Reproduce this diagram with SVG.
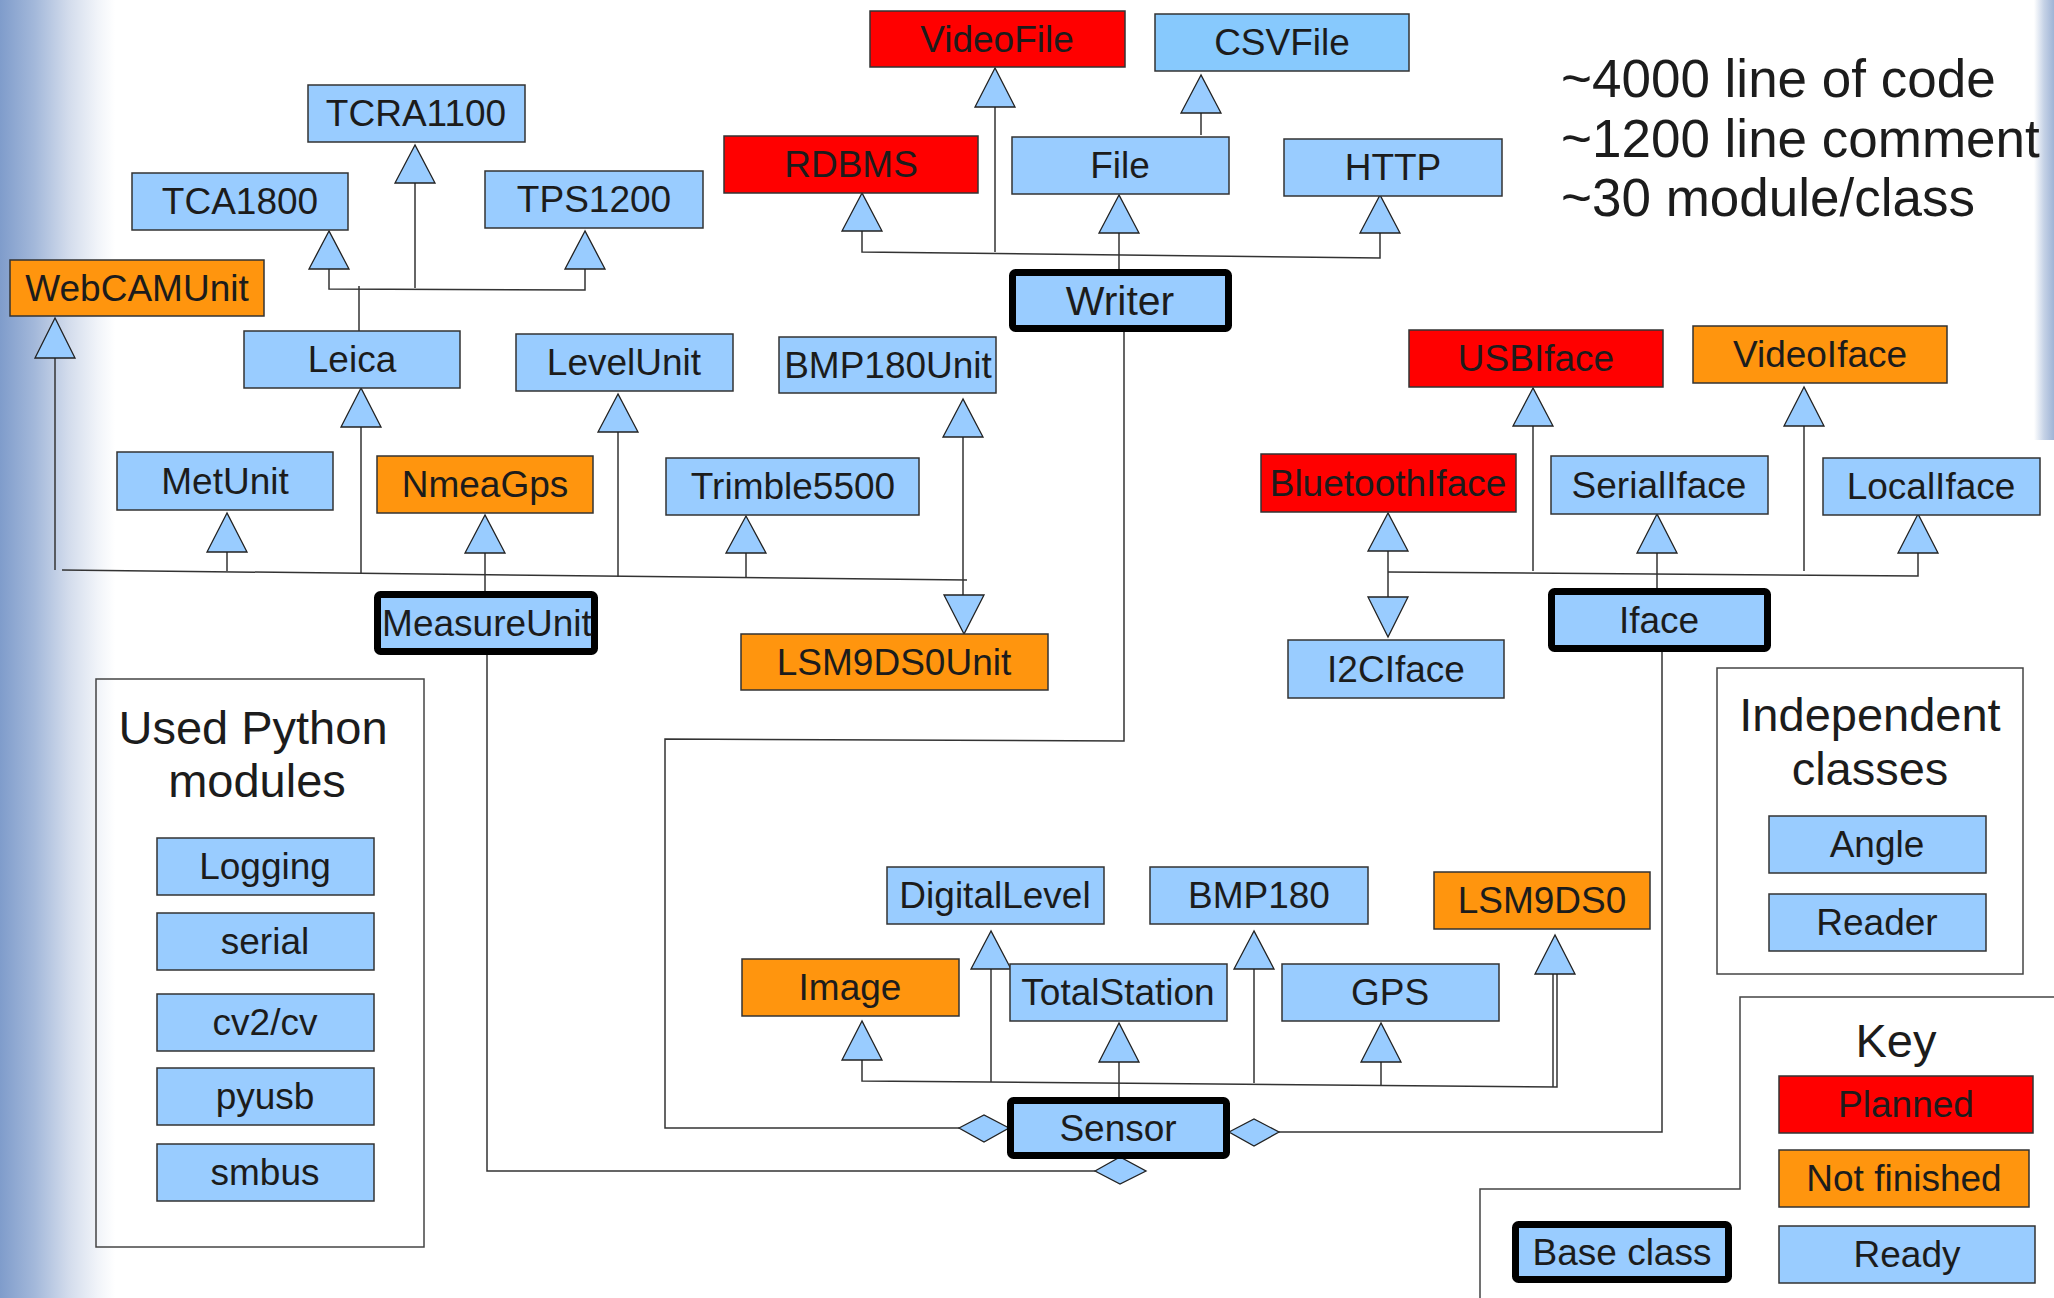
<svg xmlns="http://www.w3.org/2000/svg" width="2054" height="1298" viewBox="0 0 2054 1298">
<defs>
<linearGradient id="lbg" x1="0" y1="0" x2="1" y2="0">
<stop offset="0" stop-color="#7f9ccb"/>
<stop offset="0.3" stop-color="#a3b8da"/>
<stop offset="0.6" stop-color="#d3dcec"/>
<stop offset="0.85" stop-color="#f1f4f9"/>
<stop offset="1" stop-color="#ffffff"/>
</linearGradient>
<linearGradient id="rbg" x1="0" y1="0" x2="1" y2="0">
<stop offset="0" stop-color="#ffffff"/>
<stop offset="0.5" stop-color="#c5d2e6"/>
<stop offset="1" stop-color="#9fb4d6"/>
</linearGradient>
<style>
.n{stroke:#333;stroke-width:1.5}
.b{fill:#99ccff}
.c{fill:#87c9fd}
.r{fill:#ff0000}
.o{fill:#ff950e}
.k{fill:#99ccff;stroke:#000;stroke-width:7}
.t{font-family:"Liberation Sans",Arial,sans-serif;font-size:37px;fill:#1c1c1c;text-anchor:middle}
.h{font-family:"Liberation Sans",Arial,sans-serif;font-size:47px;fill:#1c1c1c;text-anchor:middle}
.s{font-family:"Liberation Sans",Arial,sans-serif;font-size:53px;fill:#1c1c1c}
.tri{fill:#99ccff;stroke:#222;stroke-width:1.3}
.ln{fill:none;stroke:#333;stroke-width:1.5}
.frame{fill:none;stroke:#444;stroke-width:1.5}
</style>
</defs>
<rect width="2054" height="1298" fill="#ffffff"/>
<rect x="0" y="0" width="115" height="1298" fill="url(#lbg)"/>
<rect x="2034" y="0" width="20" height="440" fill="url(#rbg)"/>

<g id="connectors">
<path class="ln" d="M415,183 V288"/>
<path class="ln" d="M329,269 V289 L585,290 V269"/>
<path class="ln" d="M359,286 V331"/>
<path class="ln" d="M55,358 V570"/>
<path class="ln" d="M62,570 L967,580"/>
<path class="ln" d="M227,552 V571"/>
<path class="ln" d="M361,427 V573"/>
<path class="ln" d="M485,553 V591"/>
<path class="ln" d="M618,432 V577"/>
<path class="ln" d="M746,553 V578"/>
<path class="ln" d="M963,437 V595"/>
<path class="ln" d="M995,107 V252"/>
<path class="ln" d="M862,231 V252 L1380,258 V233"/>
<path class="ln" d="M1201,113 V135"/>
<path class="ln" d="M1119,233 V269"/>
<path class="ln" d="M1533,426 V571"/>
<path class="ln" d="M1804,426 V571"/>
<path class="ln" d="M1388,551 V597"/>
<path class="ln" d="M1388,572 L1918,576 V553"/>
<path class="ln" d="M1657,553 V588"/>
<path class="ln" d="M862,1060 V1081 L1557,1087 V974"/>
<path class="ln" d="M1553,974 V1087"/>
<path class="ln" d="M991,969 V1082"/>
<path class="ln" d="M1254,969 V1083"/>
<path class="ln" d="M1119,1062 V1097"/>
<path class="ln" d="M1381,1062 V1085"/>
<path class="ln" d="M1124,332 V741 L665,739 V1128 H959"/>
<path class="ln" d="M487,655 V1171 H1095"/>
<path class="ln" d="M1662,652 V1132 H1279"/>
<polygon class="tri" points="415,145 395,183 435,183"/>
<polygon class="tri" points="329,231 309,269 349,269"/>
<polygon class="tri" points="585,231 565,269 605,269"/>
<polygon class="tri" points="55,318 35,358 75,358"/>
<polygon class="tri" points="361,388 341,427 381,427"/>
<polygon class="tri" points="618,394 598,432 638,432"/>
<polygon class="tri" points="963,399 943,437 983,437"/>
<polygon class="tri" points="227,513 207,552 247,552"/>
<polygon class="tri" points="485,515 465,553 505,553"/>
<polygon class="tri" points="746,516 726,553 766,553"/>
<polygon class="tri" points="995,68 975,107 1015,107"/>
<polygon class="tri" points="1201,75 1181,113 1221,113"/>
<polygon class="tri" points="862,193 842,231 882,231"/>
<polygon class="tri" points="1119,195 1099,233 1139,233"/>
<polygon class="tri" points="1380,195 1360,233 1400,233"/>
<polygon class="tri" points="1533,388 1513,426 1553,426"/>
<polygon class="tri" points="1804,387 1784,426 1824,426"/>
<polygon class="tri" points="1388,513 1368,551 1408,551"/>
<polygon class="tri" points="1657,514 1637,553 1677,553"/>
<polygon class="tri" points="1918,514 1898,553 1938,553"/>
<polygon class="tri" points="862,1021 842,1060 882,1060"/>
<polygon class="tri" points="991,931 971,969 1011,969"/>
<polygon class="tri" points="1254,931 1234,969 1274,969"/>
<polygon class="tri" points="1555,935 1535,974 1575,974"/>
<polygon class="tri" points="1119,1023 1099,1062 1139,1062"/>
<polygon class="tri" points="1381,1023 1361,1062 1401,1062"/>
<polygon class="tri" points="964,634 944,595 984,595"/>
<polygon class="tri" points="1388,637 1368,597 1408,597"/>
<polygon class="tri" points="959,1128 984,1115 1009,1128 984,1142"/>
<polygon class="tri" points="1229,1132 1254,1119 1279,1132 1254,1146"/>
<polygon class="tri" points="1095,1171 1120,1157 1146,1171 1120,1184"/>
</g>

<g id="frames">
<rect class="frame" x="96" y="679" width="328" height="568"/>
<rect class="frame" x="1717" y="668" width="306" height="306"/>
<polyline class="frame" points="2054,997 1740,997 1740,1189 1480,1189 1480,1298"/>
</g>

<g id="stats">
<text class="s" x="1561" y="97">~4000 line of code</text>
<text class="s" x="1561" y="157">~1200 line comment</text>
<text class="s" x="1561" y="216">~30 module/class</text>
</g>

<g id="n-TCRA1100"><rect class="n b" x="308" y="85" width="217" height="57"/><text class="t" x="416" y="126">TCRA1100</text></g>
<g id="n-TCA1800"><rect class="n b" x="132" y="173" width="216" height="57"/><text class="t" x="240" y="214">TCA1800</text></g>
<g id="n-TPS1200"><rect class="n b" x="485" y="171" width="218" height="57"/><text class="t" x="594" y="212">TPS1200</text></g>
<g id="n-WebCAMUnit"><rect class="n o" x="10" y="260" width="254" height="56"/><text class="t" x="137" y="301">WebCAMUnit</text></g>
<g id="n-Leica"><rect class="n b" x="244" y="331" width="216" height="57"/><text class="t" x="352" y="372">Leica</text></g>
<g id="n-LevelUnit"><rect class="n b" x="516" y="334" width="217" height="57"/><text class="t" x="624" y="375">LevelUnit</text></g>
<g id="n-BMP180Unit"><rect class="n b" x="779" y="337" width="217" height="56"/><text class="t" x="888" y="378">BMP180Unit</text></g>
<g id="n-MetUnit"><rect class="n b" x="117" y="452" width="216" height="58"/><text class="t" x="225" y="494">MetUnit</text></g>
<g id="n-NmeaGps"><rect class="n o" x="377" y="456" width="216" height="57"/><text class="t" x="485" y="497">NmeaGps</text></g>
<g id="n-Trimble5500"><rect class="n b" x="666" y="458" width="253" height="57"/><text class="t" x="793" y="499">Trimble5500</text></g>
<g id="n-MeasureUnit"><rect class="k" x="377.5" y="594.5" width="217" height="57" rx="3"/><text class="t" x="487" y="636">MeasureUnit</text></g>
<g id="n-LSM9DS0Unit"><rect class="n o" x="741" y="634" width="307" height="56"/><text class="t" x="894" y="675">LSM9DS0Unit</text></g>
<g id="n-VideoFile"><rect class="n r" x="870" y="11" width="255" height="56"/><text class="t" x="997" y="52">VideoFile</text></g>
<g id="n-CSVFile"><rect class="n c" x="1155" y="14" width="254" height="57"/><text class="t" x="1282" y="55">CSVFile</text></g>
<g id="n-RDBMS"><rect class="n r" x="724" y="136" width="254" height="57"/><text class="t" x="851" y="177">RDBMS</text></g>
<g id="n-File"><rect class="n b" x="1012" y="137" width="217" height="57"/><text class="t" x="1120" y="178">File</text></g>
<g id="n-HTTP"><rect class="n b" x="1284" y="139" width="218" height="57"/><text class="t" x="1393" y="180">HTTP</text></g>
<g id="n-Writer"><rect class="k" x="1012.5" y="272.5" width="216" height="56" rx="3"/><text class="t" x="1120" y="315" style="font-size:41px">Writer</text></g>
<g id="n-USBIface"><rect class="n r" x="1409" y="330" width="254" height="57"/><text class="t" x="1536" y="371">USBIface</text></g>
<g id="n-VideoIface"><rect class="n o" x="1693" y="326" width="254" height="57"/><text class="t" x="1820" y="367">VideoIface</text></g>
<g id="n-BluetoothIface"><rect class="n r" x="1261" y="454" width="255" height="58"/><text class="t" x="1388" y="496">BluetoothIface</text></g>
<g id="n-SerialIface"><rect class="n b" x="1551" y="456" width="217" height="58"/><text class="t" x="1659" y="498">SerialIface</text></g>
<g id="n-LocalIface"><rect class="n b" x="1823" y="458" width="217" height="57"/><text class="t" x="1931" y="499">LocalIface</text></g>
<g id="n-Iface"><rect class="k" x="1551.5" y="591.5" width="216" height="57" rx="3"/><text class="t" x="1659" y="633">Iface</text></g>
<g id="n-I2CIface"><rect class="n b" x="1288" y="640" width="216" height="58"/><text class="t" x="1396" y="682">I2CIface</text></g>
<g id="n-DigitalLevel"><rect class="n b" x="887" y="867" width="217" height="57"/><text class="t" x="995" y="908">DigitalLevel</text></g>
<g id="n-BMP180"><rect class="n b" x="1150" y="867" width="218" height="57"/><text class="t" x="1259" y="908">BMP180</text></g>
<g id="n-LSM9DS0"><rect class="n o" x="1434" y="872" width="216" height="57"/><text class="t" x="1542" y="913">LSM9DS0</text></g>
<g id="n-Image"><rect class="n o" x="742" y="959" width="217" height="57"/><text class="t" x="850" y="1000">Image</text></g>
<g id="n-TotalStation"><rect class="n b" x="1010" y="964" width="217" height="57"/><text class="t" x="1118" y="1005">TotalStation</text></g>
<g id="n-GPS"><rect class="n b" x="1282" y="964" width="217" height="57"/><text class="t" x="1390" y="1005">GPS</text></g>
<g id="n-Sensor"><rect class="k" x="1010.5" y="1100.5" width="216" height="55" rx="3"/><text class="t" x="1118" y="1141">Sensor</text></g>

<g id="modules">
<text class="h" x="253" y="744">Used Python</text>
<text class="h" x="257" y="797">modules</text>
<g id="n-Logging"><rect class="n b" x="157" y="838" width="217" height="57"/><text class="t" x="265" y="879">Logging</text></g>
<g id="n-serial"><rect class="n b" x="157" y="913" width="217" height="57"/><text class="t" x="265" y="954">serial</text></g>
<g id="n-cv2"><rect class="n b" x="157" y="994" width="217" height="57"/><text class="t" x="265" y="1035">cv2/cv</text></g>
<g id="n-pyusb"><rect class="n b" x="157" y="1068" width="217" height="57"/><text class="t" x="265" y="1109">pyusb</text></g>
<g id="n-smbus"><rect class="n b" x="157" y="1144" width="217" height="57"/><text class="t" x="265" y="1185">smbus</text></g>
</g>

<g id="independent">
<text class="h" x="1870" y="731">Independent</text>
<text class="h" x="1870" y="785">classes</text>
<g id="n-Angle"><rect class="n b" x="1769" y="816" width="217" height="57"/><text class="t" x="1877" y="857">Angle</text></g>
<g id="n-Reader"><rect class="n b" x="1769" y="894" width="217" height="57"/><text class="t" x="1877" y="935">Reader</text></g>
</g>

<g id="key">
<text class="h" x="1896" y="1057">Key</text>
<g id="k-Planned"><rect class="n r" x="1779" y="1076" width="254" height="57"/><text class="t" x="1906" y="1117">Planned</text></g>
<g id="k-NotFinished"><rect class="n o" x="1779" y="1150" width="250" height="57"/><text class="t" x="1904" y="1191">Not finished</text></g>
<g id="k-Ready"><rect class="n b" x="1779" y="1226" width="256" height="57"/><text class="t" x="1907" y="1267">Ready</text></g>
<g id="k-Base"><rect class="k" x="1515.5" y="1224.5" width="213" height="55" rx="3"/><text class="t" x="1622" y="1265">Base class</text></g>
</g>
</svg>
